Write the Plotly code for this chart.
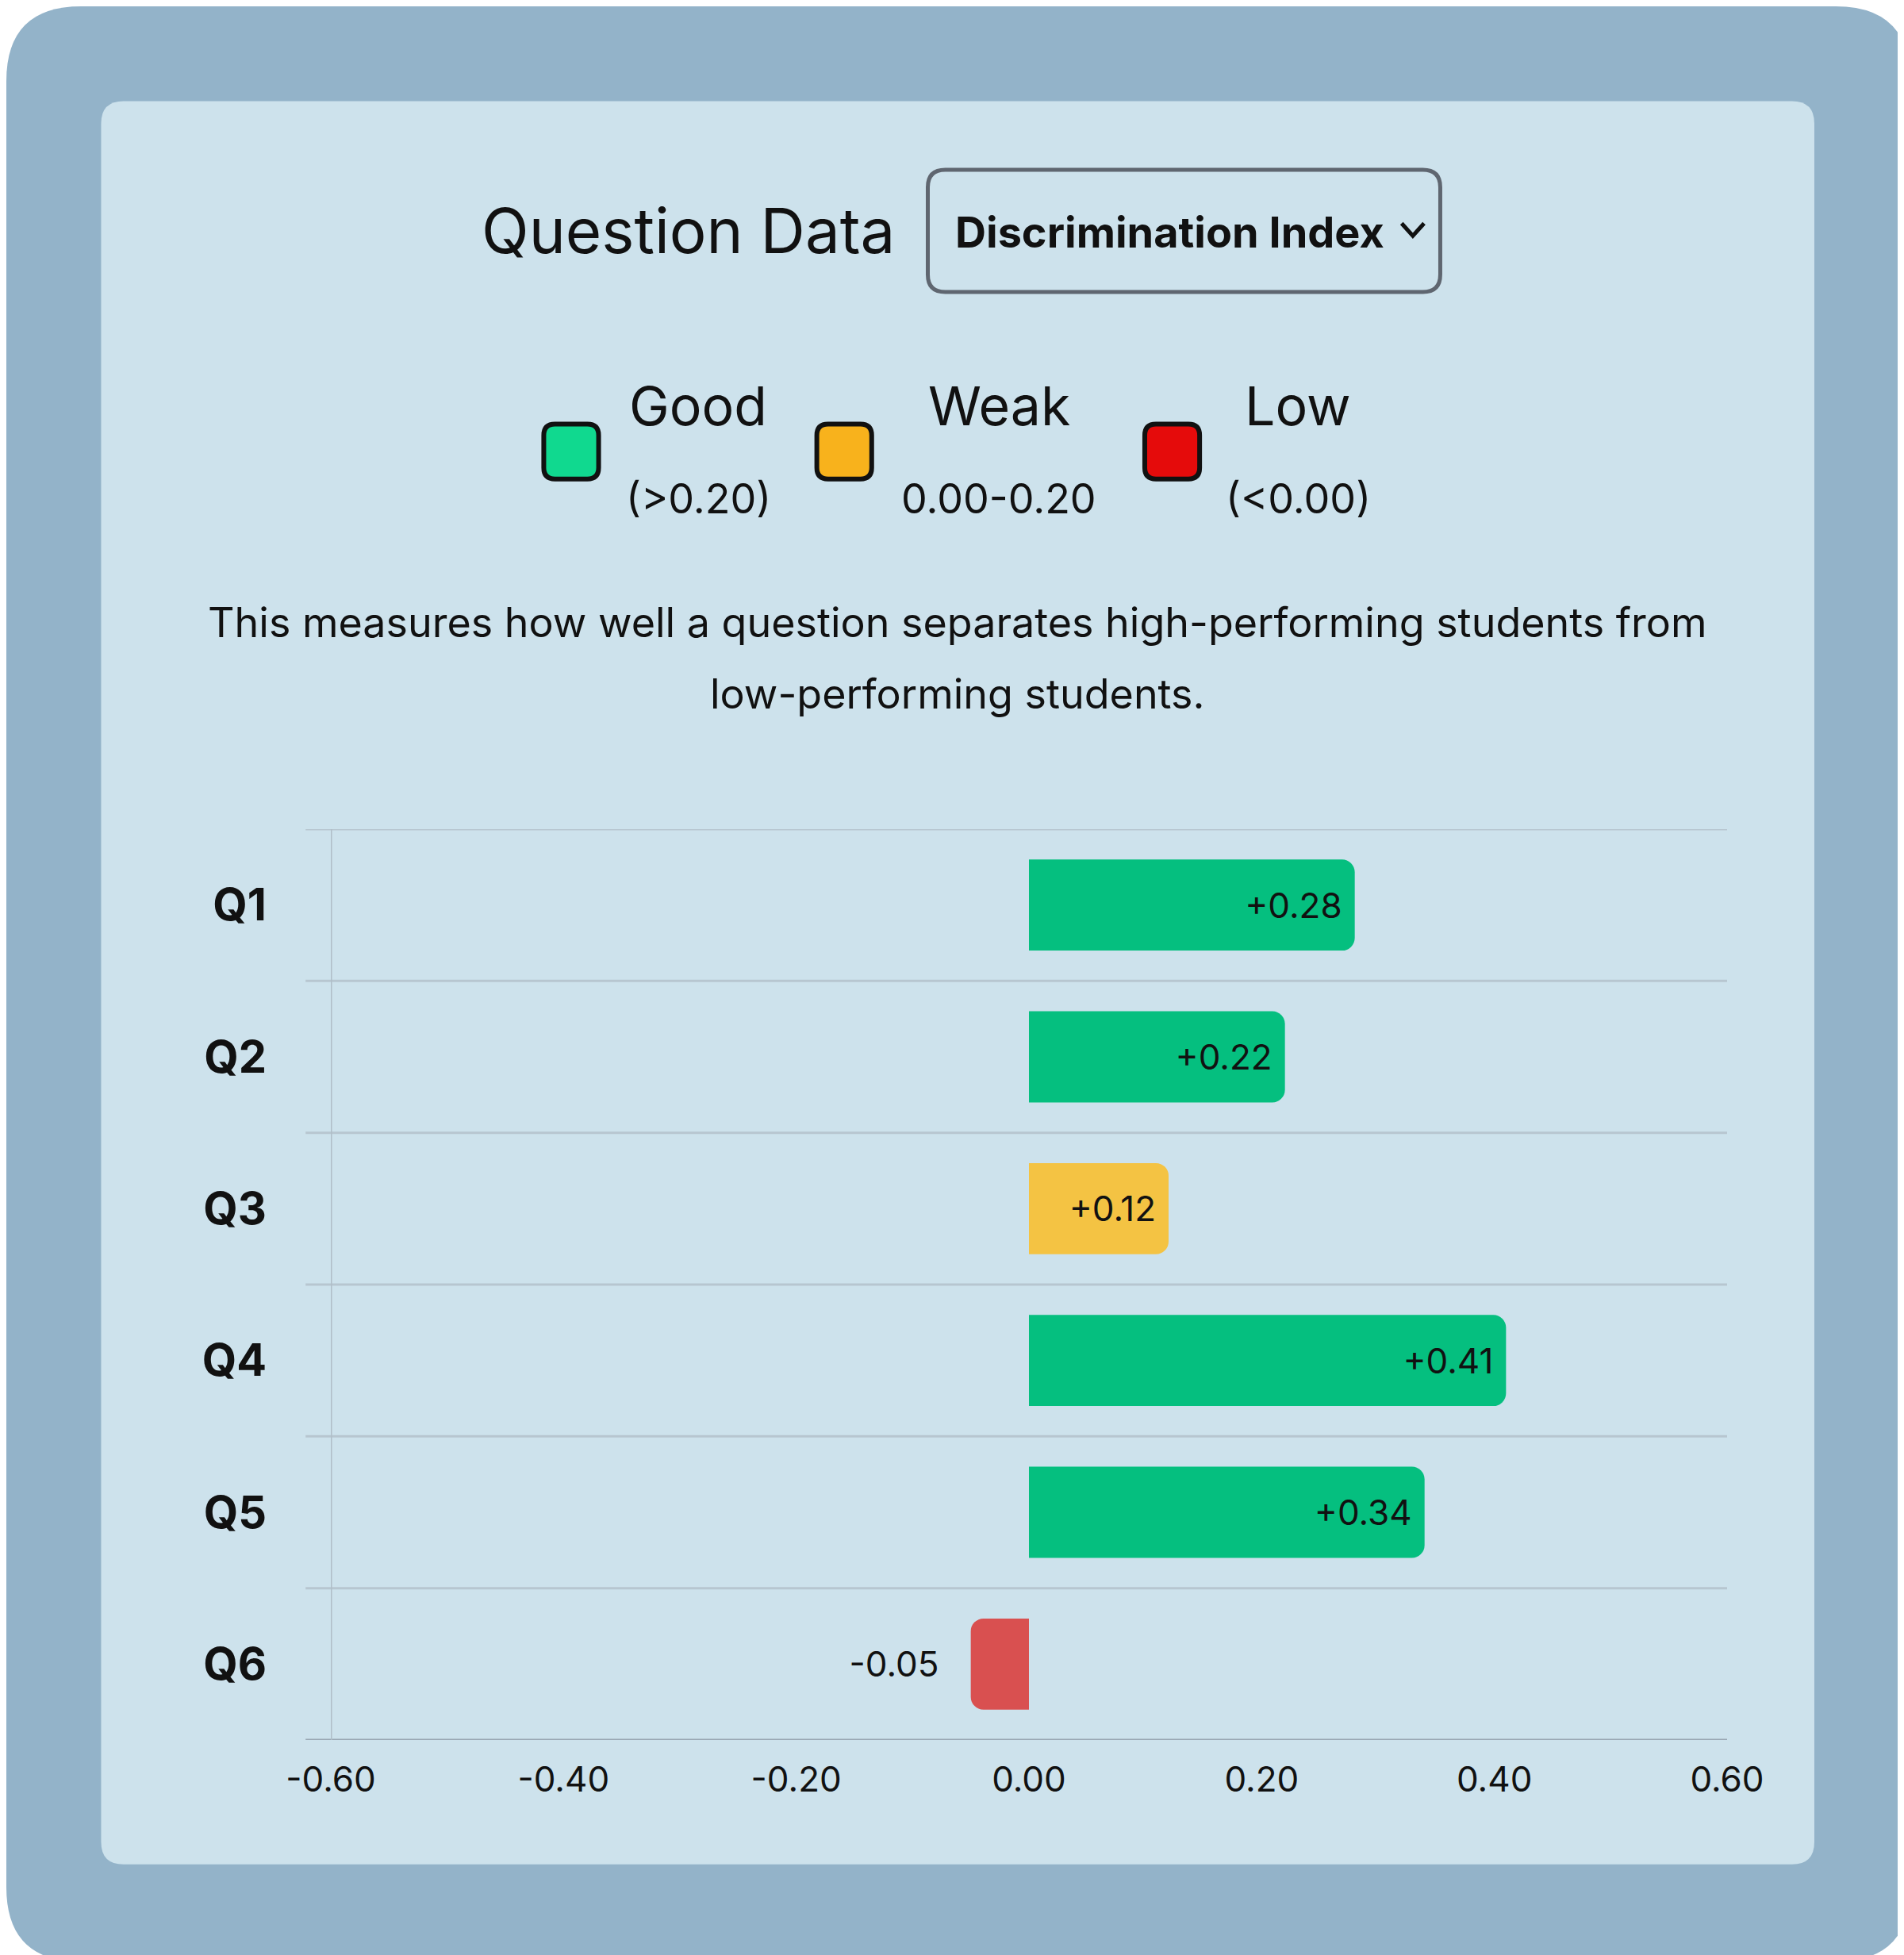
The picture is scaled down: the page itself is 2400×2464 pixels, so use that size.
import plotly.graph_objects as go

# data
questions = ["Q1", "Q2", "Q3", "Q4", "Q5", "Q6"]
disc_index = [0.28, 0.22, 0.12, 0.41, 0.34, -0.05]
tick_vals = [-0.6, -0.4, -0.2, 0.0, 0.2, 0.4, 0.6]
tick_text = ["-0.60", "-0.40", "-0.20", "0.00", "0.20", "0.40", "0.60"]
legend_names = ["Good", "Weak", "Low"]
legend_ranges = ["(>0.20)", "0.00-0.20", "(<0.00)"]

W, H = 2400, 2464
L, R, T, B = 409, 231, 1037, 279
PW, PH = W - L - R, H - T - B
S = 2400 / 1527  # reference pixel scale


def px(x):
    return (x * S - L) / PW


def py(y):
    return (H - B - y * S) / PH


def rrect(x0, y0, x1, y1, r):
    # rounded rect path in paper coords, input in reference pixels
    rx, ry = r * S / PW, r * S / PH
    a, b, c, d = px(x0), py(y0), px(x1), py(y1)
    return (f"M {a+rx},{b} L {c-rx},{b} Q {c},{b} {c},{b-ry} L {c},{d+ry} "
            f"Q {c},{d} {c-rx},{d} L {a+rx},{d} Q {a},{d} {a},{d+ry} "
            f"L {a},{b-ry} Q {a},{b} {a+rx},{b} Z")


def bar_color(v):
    if v > 0.2:
        return "#05BF7F"
    if v >= 0:
        return "#F4C343"
    return "#D95050"


def label(v):
    return f"{v:+.2f}" if v > 0 else f"{v:+.2f}   "


fig = go.Figure()
fig.add_trace(go.Bar(
    x=disc_index, y=questions, orientation="h", width=0.6,
    marker=dict(color=[bar_color(v) for v in disc_index], line_width=0),
    text=[label(v) for v in disc_index],
    textposition=["inside" if v > 0 else "outside" for v in disc_index],
    insidetextanchor="end", textangle=0,
    textfont=dict(size=44, color="#111111", family="Inter"),
    cliponaxis=False,
))

shapes = [
    dict(type="path", path=rrect(0, 0, 1527, 1568, 60), xref="paper", yref="paper",
         fillcolor="#93b3c9", line_width=0, layer="below"),
    dict(type="path", path=rrect(76, 76, 1450, 1490, 18), xref="paper", yref="paper",
         fillcolor="#cde2ec", line_width=0, layer="below"),
    dict(type="path", path=rrect(739, 131, 1150, 229, 14), xref="paper", yref="paper",
         fillcolor="rgba(0,0,0,0)", line=dict(color="#5f6670", width=5)),
    dict(type="path", xref="paper", yref="paper",
         path=f"M {px(1119)},{py(174)} L {px(1128)},{py(184)} L {px(1137)},{py(174)}",
         line=dict(color="#111111", width=5)),
]
# category separators
for i in range(len(questions) + 1):
    shapes.append(dict(type="line", xref="paper", yref="y", x0=px(240), x1=1,
                       y0=i - 0.5, y1=i - 0.5,
                       line=dict(color="#9aa8b4" if i == len(questions) else "#b7c6d0", width=3)))
shapes.append(dict(type="line", xref="x", yref="paper", x0=-0.6, x1=-0.6, y0=0, y1=1,
                   line=dict(color="#b0bec8", width=3)))

# legend squares
leg_x = [453, 672, 935]
leg_fill = ["#10D98F", "#F8B21C", "#E50B0B"]
for x, c in zip(leg_x, leg_fill):
    shapes.append(dict(type="path", path=rrect(x - 22, 335, x + 22, 379, 9),
                       xref="paper", yref="paper", fillcolor=c,
                       line=dict(color="#111111", width=6)))


def note(text, x, y, size, anchor="center"):
    return dict(text=text, x=px(x), y=py(y), xref="paper", yref="paper",
                xanchor=anchor, yanchor="middle", showarrow=False,
                font=dict(size=size, color="#111111", family="Inter"))


annotations = [
    note("Question Data", 547, 180, 78),
    note("<b>Discrimination Index</b>", 760, 181, 54, anchor="left"),
    note("This measures how well a question separates high-performing students from", 763, 494, 52),
    note("low-performing students.", 763, 551, 52),
]
for cx, name, rng in zip([555, 796, 1036], legend_names, legend_ranges):
    annotations.append(note(name, cx, 320, 68))
    annotations.append(note(rng, cx, 395, 52))

fig.update_layout(
    width=W, height=H, margin=dict(l=L, r=R, t=T, b=B),
    paper_bgcolor="white", plot_bgcolor="rgba(0,0,0,0)",
    showlegend=False, barcornerradius=16,
    shapes=shapes, annotations=annotations,
    font=dict(family="Inter", color="#111111"),
    xaxis=dict(range=[-0.6, 0.6], tickvals=tick_vals, ticktext=tick_text,
               showgrid=False, zeroline=False, tickfont=dict(size=44),
               ticks="", ticklabelstandoff=20),
    yaxis=dict(showgrid=False, zeroline=False, ticks="",
               tickfont=dict(size=56, family="Inter", weight="bold"),
               ticklabelstandoff=80, range=[5.5, -0.5]),
)

fig.write_html("out.html")
